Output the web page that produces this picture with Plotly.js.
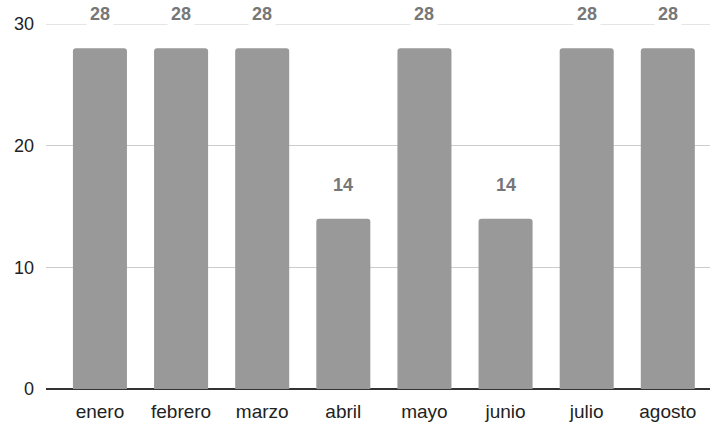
<!DOCTYPE html>
<html>
<head>
<meta charset="utf-8">
<script src="https://cdn.plot.ly/plotly-3.0.1.min.js"></script>
<style>html,body{margin:0;padding:0;background:#fff;}#chart{width:712px;height:422px;}</style>
</head>
<body>
<div id="chart"></div>
<script>
const months = ["enero", "febrero", "marzo", "abril", "mayo", "junio", "julio", "agosto"];
const values = [28, 28, 28, 14, 28, 14, 28, 28];
const yTicks = [0, 10, 20, 30];

const trace = {
  type: "bar",
  x: months,
  y: values,
  width: 0.666,
  marker: { color: "#999999", cornerradius: 3 },
  hoverinfo: "none"
};

const annotations = months.map((m, i) => ({
  x: m, y: values[i], xref: "x", yref: "y",
  text: String(values[i]),
  showarrow: false,
  yanchor: "middle",
  yshift: 34,
  bgcolor: "#ffffff",
  borderpad: 3,
  font: { family: "Liberation Sans, Arial, sans-serif", size: 18, color: "#777777", weight: "bold" }
}));

// top gridline (sits on the plot edge, so draw it explicitly)
const shapes = [{
  type: "line", xref: "paper", yref: "y", x0: 0, x1: 1,
  y0: yTicks[yTicks.length - 1], y1: yTicks[yTicks.length - 1],
  line: { color: "#cccccc", width: 1 }, layer: "below"
}];

const layout = {
  width: 712, height: 422,
  margin: { l: 46, r: 2, t: 24, b: 33 },
  paper_bgcolor: "#ffffff",
  plot_bgcolor: "#ffffff",
  showlegend: false,
  font: { family: "Liberation Sans, Arial, sans-serif", size: 19, color: "#222222" },
  xaxis: {
    type: "category",
    range: [-0.665, 7.52],
    showgrid: false,
    showline: false,
    zeroline: false,
    ticks: "",
    ticklabelstandoff: 9,
    tickfont: { size: 19, color: "#222222" }
  },
  yaxis: {
    range: [0, 30],
    tickvals: yTicks,
    ticktext: yTicks.map(String),
    showgrid: true,
    gridcolor: "#cccccc",
    gridwidth: 1,
    zeroline: true,
    zerolinecolor: "#333333",
    zerolinewidth: 1.5,
    showline: false,
    ticks: "",
    ticklabelstandoff: 11,
    tickfont: { size: 18, color: "#222222" }
  },
  shapes: shapes,
  annotations: annotations
};

Plotly.newPlot("chart", [trace], layout, { displayModeBar: false, staticPlot: true });
</script>
</body>
</html>
